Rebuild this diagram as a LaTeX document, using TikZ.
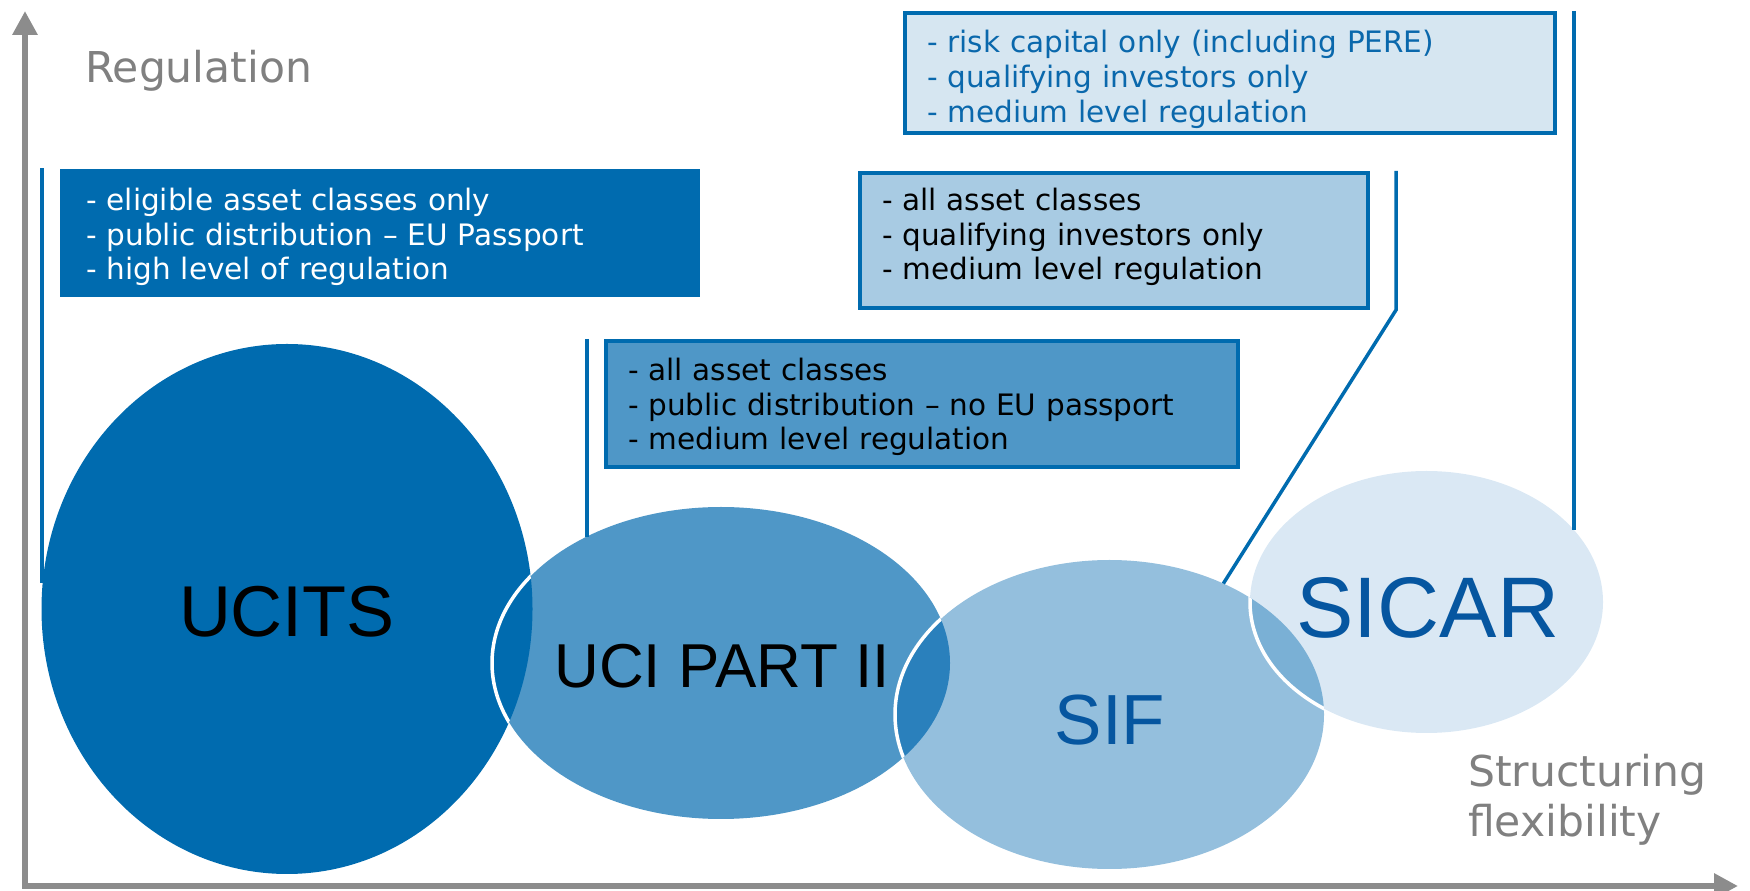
\documentclass[tikz,border=0pt]{standalone}
\usepackage{fontspec}
\setmainfont{DejaVu Sans}
\newfontfamily\arialfont{Liberation Sans}
\usetikzlibrary{shapes.geometric,arrows.meta}

\definecolor{ucitsblue}{HTML}{006BAF}
\definecolor{uciblue}{HTML}{4F97C7}
\definecolor{sifblue}{HTML}{94BFDD}
\definecolor{sicarblue}{HTML}{DAE8F4}
\definecolor{mixblue}{HTML}{2A80BC}
\definecolor{mixpale}{HTML}{7AB0D5}
\definecolor{boxsif}{HTML}{A8CBE3}
\definecolor{boxsicar}{HTML}{D6E6F1}
\definecolor{inkblue}{HTML}{0A68AC}
\definecolor{labelblue}{HTML}{0656A0}
\definecolor{axisgrey}{HTML}{8C8C8C}
\definecolor{textgrey}{HTML}{808080}

\begin{document}
\begin{tikzpicture}[x=1pt, y=1pt]
    \tikzstyle{blob}=[ellipse, draw=none, inner sep=0pt, outer sep=0pt]
    \tikzstyle{rim}=[draw=white, line width=3.5pt]
    \tikzstyle{card}=[rectangle, anchor=north west, inner xsep=22pt, inner ysep=0pt, align=left, font=\fontsize{29.5}{34.6}\selectfont]
    \tikzstyle{framed card}=[card, draw=ucitsblue, line width=4pt]
    \tikzstyle{tag}=[inner sep=0pt]
    \tikzstyle{link}=[draw=ucitsblue, line width=3.5pt]
    \tikzstyle{axis}=[draw=axisgrey, line width=6.5pt, {Triangle[width=24pt,length=24pt]}-{Triangle[width=24pt,length=24pt]}]
    \tikzstyle{axis label}=[text=textgrey, inner sep=0pt, font=\fontsize{42.5}{50}\selectfont]

    \useasboundingbox (0,0) rectangle (1750,891);

% Nodes
    % Axes
    \coordinate (O) at (25,5);
    \coordinate (Y) at (25,880);
    \coordinate (X) at (1738,5);
    \draw[axis] (Y) -- (O) -- (X);

    \node[axis label, anchor=base west] (reg) at (85,808) {Regulation};
    \node[axis label, anchor=base west, align=left] (flex) at (1468,54) {Structuring\\flexibility};

    % Fund ellipses
    \foreach \name/\x/\y/\w/\h/\col in {ucits/287/282/491/530/ucitsblue, uci/721/228/458/312/uciblue, sif/1109.5/176.5/429/309/sifblue, sicar/1426.5/289/353/262/sicarblue}
        \node[blob, fill=\col, minimum width=\w pt, minimum height=\h pt] (\name) at (\x,\y) {};

    % Overlaps
    \begin{scope}
        \clip (ucits.center) ellipse [x radius=245.5, y radius=265];
        \fill[ucitsblue] (uci.center) ellipse [x radius=229, y radius=156];
        \draw[rim] (uci.center) ellipse [x radius=229, y radius=156];
    \end{scope}
    \begin{scope}
        \clip (uci.center) ellipse [x radius=229, y radius=156];
        \fill[mixblue] (sif.center) ellipse [x radius=214.5, y radius=154.5];
        \draw[rim] (sif.center) ellipse [x radius=214.5, y radius=154.5];
    \end{scope}
    \begin{scope}
        \clip (sif.center) ellipse [x radius=214.5, y radius=154.5];
        \fill[mixpale] (sicar.center) ellipse [x radius=176.5, y radius=131];
        \draw[rim] (sicar.center) ellipse [x radius=176.5, y radius=131];
    \end{scope}

    % Fund names
    \node[tag, font=\arialfont\fontsize{72}{72}\selectfont] (t-ucits) at (287,279) {UCITS};
    \node[tag, font=\arialfont\fontsize{62}{62}\selectfont] (t-uci) at (722,225) {UCI PART II};
    \node[tag, text=labelblue, font=\arialfont\fontsize{71}{71}\selectfont] (t-sif) at (1110,171) {SIF};
    \node[tag, text=labelblue, font=\arialfont\fontsize{86}{86}\selectfont] (t-sicar) at (1428,283) {SICAR};

    % Feature boxes
    \node[card, fill=ucitsblue, text=white, inner xsep=26pt, minimum width=640pt, minimum height=128.5pt, text width=588pt, text height=41.8pt, text depth=86.7pt] (box1) at (60,722.5)
        {- eligible asset classes only\\- public distribution – EU Passport\\- high level of regulation};
    \node[framed card, fill=uciblue, minimum width=632pt, minimum height=126pt, text width=588pt, text height=39.6pt, text depth=86.4pt] (box2) at (604,552)
        {- all asset classes\\- public distribution – no EU passport\\- medium level regulation};
    \node[framed card, fill=boxsif, minimum width=508pt, minimum height=135pt, text width=464pt, text height=37.7pt, text depth=97.3pt] (box3) at (858,720)
        {- all asset classes\\- qualifying investors only\\- medium level regulation};
    \node[framed card, fill=boxsicar, text=inkblue, minimum width=650pt, minimum height=120pt, text width=606pt, text height=39.9pt, text depth=80.1pt] (box4) at (903,880)
        {- risk capital only (including PERE)\\- qualifying investors only\\- medium level regulation};

% Paths
    \coordinate (c1) at ([xshift=-18pt]box1.north west);
    \coordinate (c2) at ([xshift=-17pt]box2.north west);
    \coordinate (c3) at ([xshift=26pt]box3.north east);
    \coordinate (c3b) at ([xshift=26pt]box3.south east);
    \coordinate (c4) at ([xshift=17pt]box4.north east);

    \draw[link] (c1) -- (c1 |- ucits.174);
    \draw[link] (c2) -- (c2 |- uci.137);
    \draw[link] (c3) -- (c3b) -- (sif.49);
    \draw[link] (c4) -- (c4 |- sicar.26);

\end{tikzpicture}
\end{document}
